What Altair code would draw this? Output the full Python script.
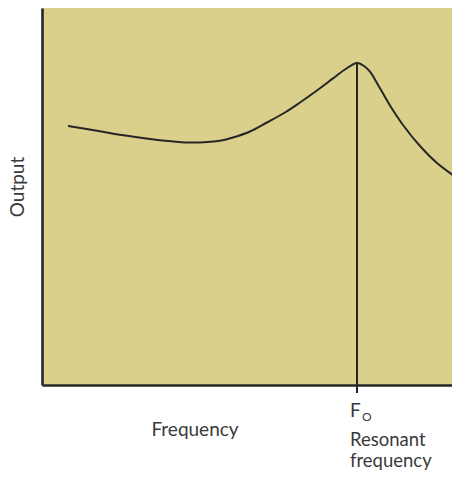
import altair as alt
import pandas as pd

# Curve (arbitrary units)
freq = [26, 58, 85, 118, 148, 178, 191, 208, 225, 243, 258, 278, 291, 303, 315, 323, 328, 338, 348, 361, 378, 395, 418]
output = [259, 253.7, 249.2, 244.7, 242.4, 244.2, 247.5, 253.5, 262.5, 272.5, 282.5, 296.8, 306.6, 315.5, 322, 318.3, 313.3, 296.7, 279.5, 260, 239, 222, 205]
resonant_freq = 315
resonant_out = 322

FONT = "Lato"
TXT = "#3a3a3a"
INK = "#262626"

df = pd.DataFrame({"f": freq, "o": output})

xs = alt.Scale(domain=[0, 410], nice=False, zero=False)
ys = alt.Scale(domain=[0, 377], nice=False, zero=False)
ax_x = alt.Axis(labels=False, ticks=False, grid=False, title=None, domainColor=INK, domainWidth=2.6)
ax_y = alt.Axis(labels=False, ticks=False, grid=False, title=None, domainColor=INK, domainWidth=2.6)

line = alt.Chart(df).mark_line(color=INK, strokeWidth=2, interpolate="catmull-rom", clip=True).encode(
    x=alt.X("f:Q", scale=xs, axis=ax_x),
    y=alt.Y("o:Q", scale=ys, axis=ax_y),
)

rule = alt.Chart(pd.DataFrame({"f": [resonant_freq], "o": [resonant_out]})).mark_rule(
    color=INK, strokeWidth=2, clip=False
).encode(
    x=alt.X("f:Q", scale=xs),
    y=alt.Y("o:Q", scale=ys),
    y2=alt.value(385),
)

def label(text, x, y, size=19, align="left", angle=0, baseline="alphabetic"):
    kw = dict(text=text, font=FONT, fontSize=size, color=TXT, align=align, baseline=baseline)
    if angle:
        kw["angle"] = angle
    return alt.Chart(pd.DataFrame({"a": [0]})).mark_text(**kw).encode(
        x=alt.value(x), y=alt.value(y)
    )

texts = [
    label("Output", -33, 179, size=19, align="center", angle=270, baseline="top"),
    label("Frequency", 153, 428, align="center"),
    label("F", 308, 409),
    label("O", 320, 413, size=12),
    label("Resonant", 308, 438, size=18.5),
    label("frequency", 308, 459, size=18.5),
]

chart = alt.layer(line, rule, *texts).properties(
    width=410,
    height=377,
    autosize=alt.AutoSizeParams(type="none"),
    padding={"left": 34, "top": 0, "right": 0, "bottom": 93},
).configure_view(fill="#dad08b", stroke=None)

chart.save("out.html", embed_options={"renderer": "svg", "actions": False})
